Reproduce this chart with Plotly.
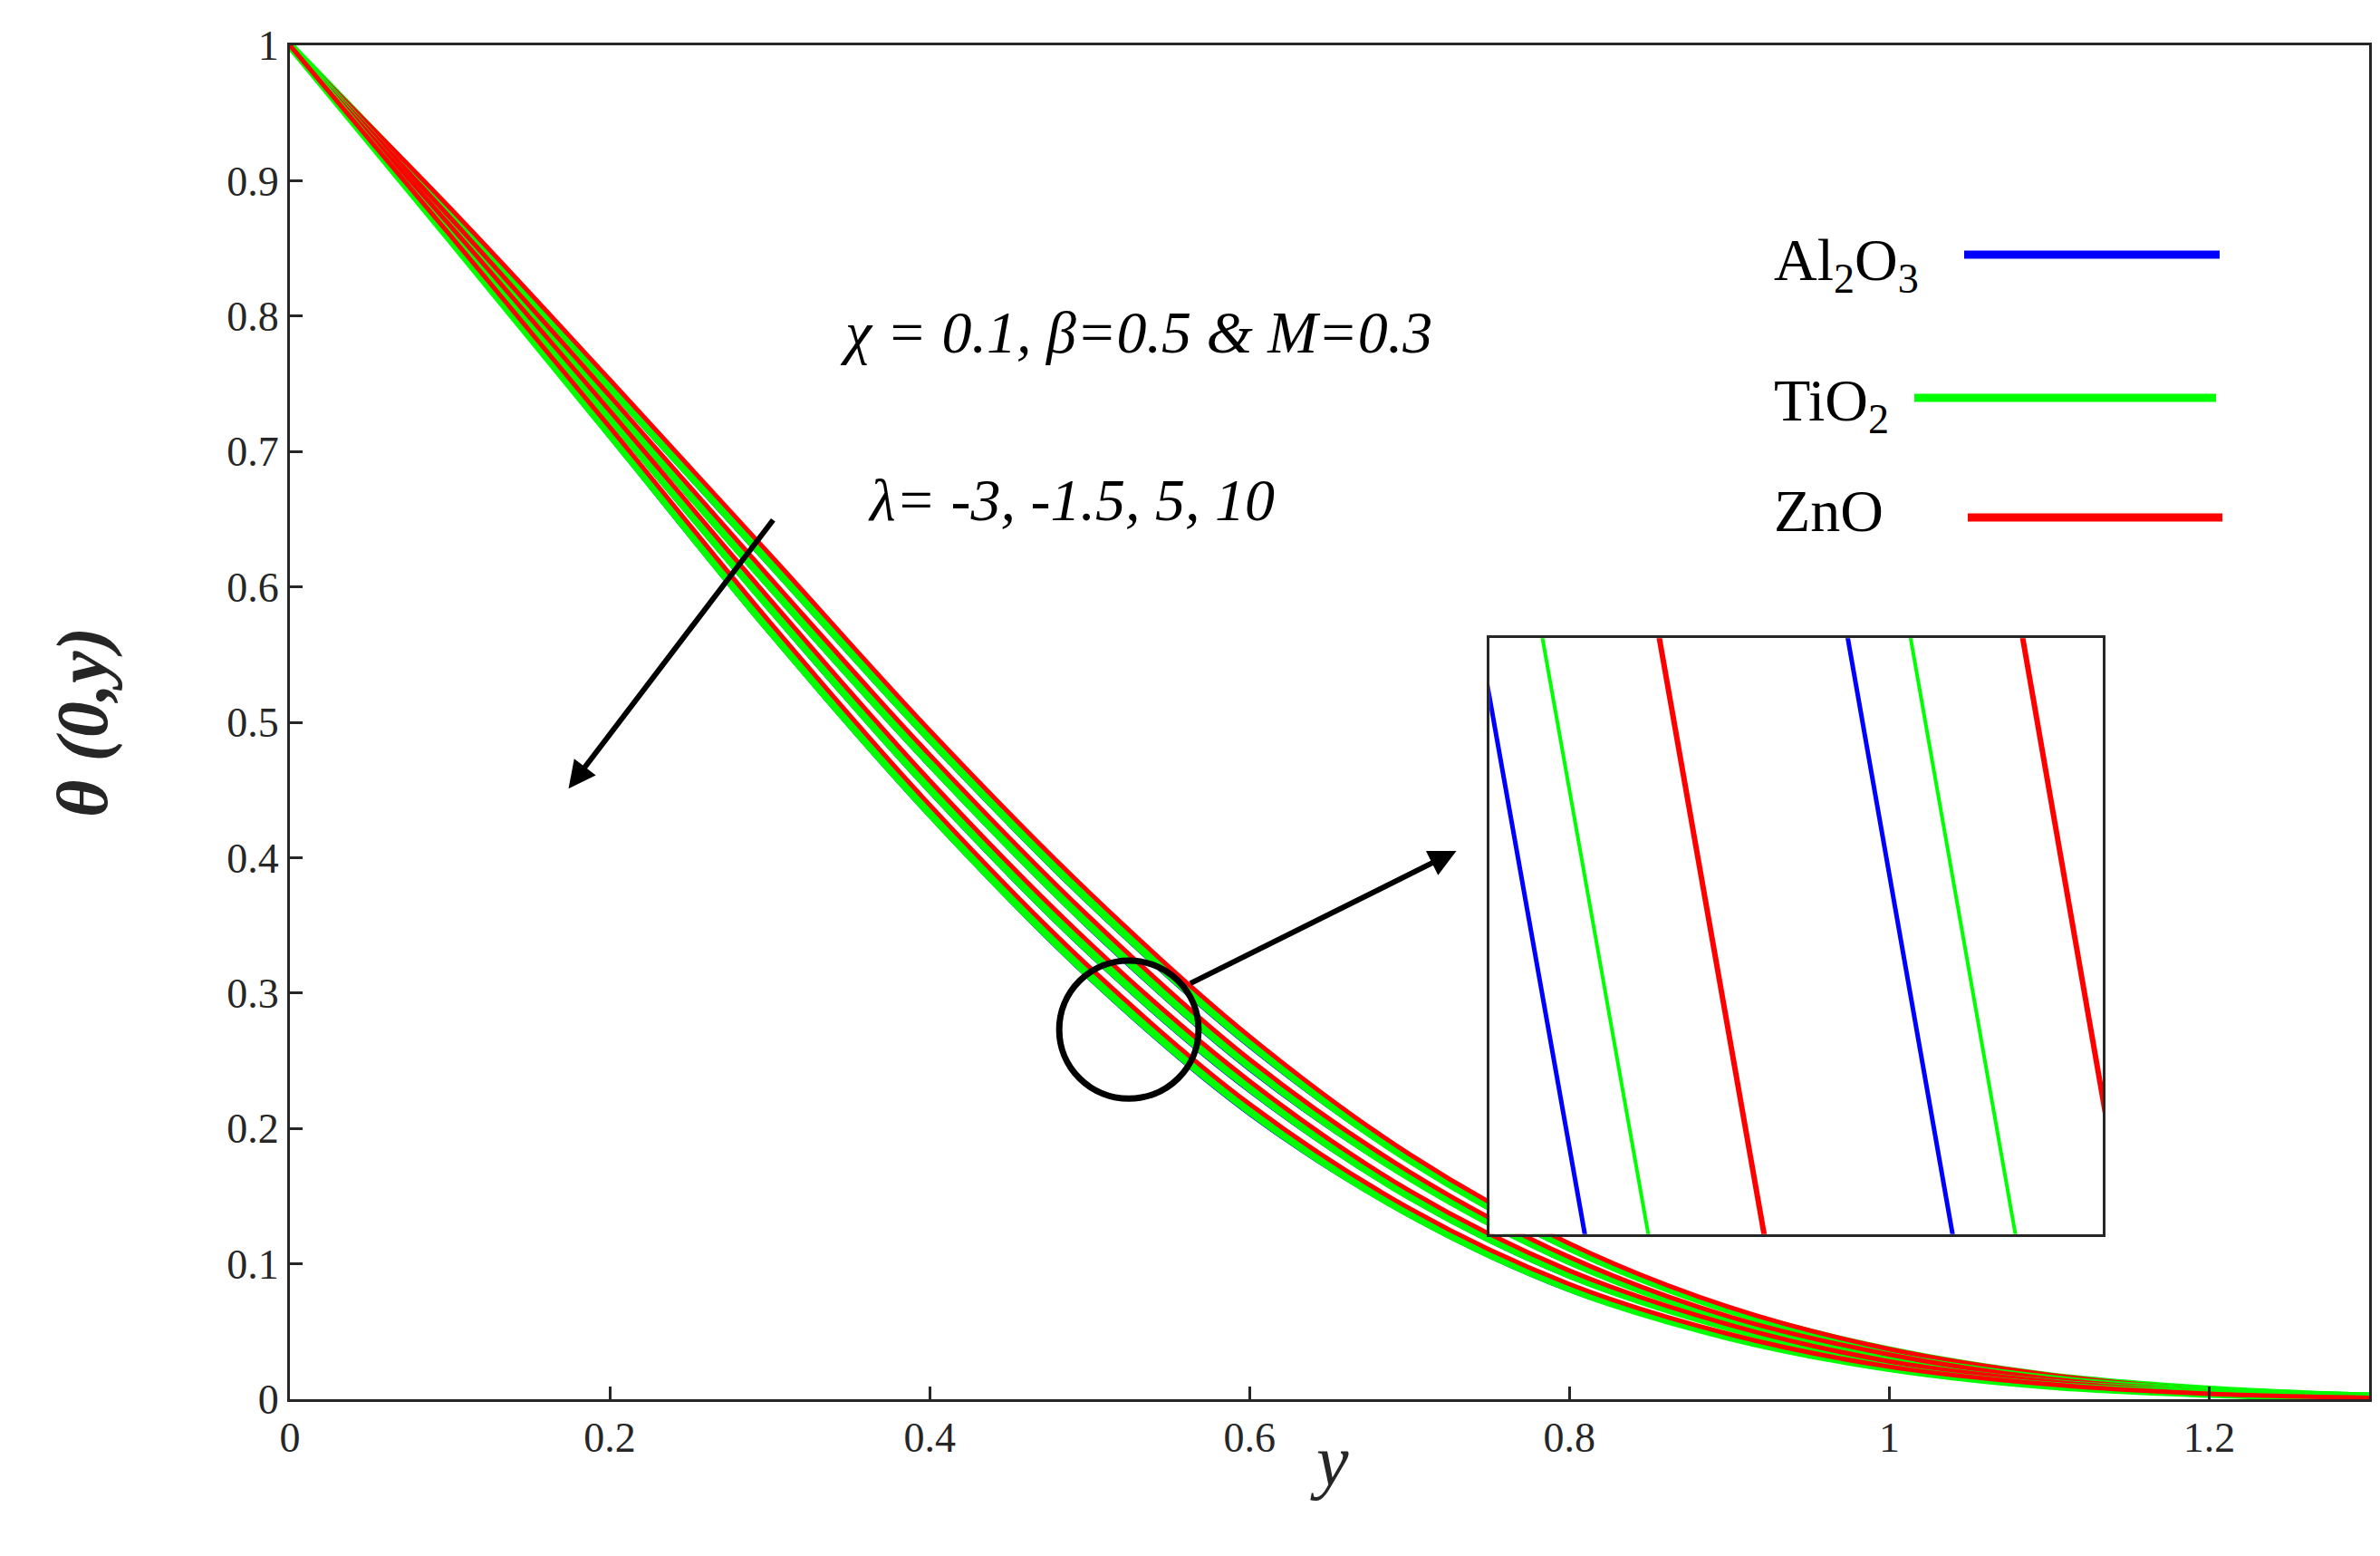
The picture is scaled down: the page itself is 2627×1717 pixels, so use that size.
import plotly.graph_objects as go

y_pts = [0, 0.1, 0.2, 0.3, 0.4, 0.5, 0.6, 0.7, 0.8, 0.9, 1.0, 1.1, 1.2, 1.3]
lambdas = [-3, -1.5, 5, 10]

# theta(0,y) for each lambda (order: -3, -1.5, 5, 10)
al2o3 = [
    [1, .875, .745, .615, .485, .365, .260, .175, .110, .065, .035, .017, .007, .002],
    [1, .868, .733, .598, .467, .347, .243, .162, .100, .058, .031, .015, .006, .002],
    [1, .862, .722, .582, .448, .328, .227, .148, .090, .052, .026, .012, .005, .001],
    [1, .855, .710, .565, .430, .310, .210, .135, .080, .045, .022, .010, .004, .001],
]
tio2 = [
    [1, .877, .748, .618, .488, .368, .263, .177, .112, .066, .036, .017, .007, .002],
    [1, .870, .736, .601, .470, .350, .246, .164, .102, .059, .032, .015, .006, .002],
    [1, .864, .725, .585, .451, .331, .230, .150, .092, .053, .027, .012, .005, .001],
    [1, .857, .713, .568, .433, .313, .213, .137, .082, .046, .023, .010, .004, .001],
]
zno = [
    [1, .880, .753, .624, .494, .374, .268, .181, .115, .068, .037, .018, .007, .002],
    [1, .873, .741, .607, .476, .356, .251, .168, .105, .061, .033, .015, .006, .002],
    [1, .867, .730, .591, .457, .337, .235, .154, .095, .055, .028, .013, .005, .001],
    [1, .860, .718, .574, .439, .319, .218, .141, .085, .048, .024, .011, .004, .001],
]

FONT = "Liberation Serif"
fig = go.Figure()

for i, lam in enumerate(lambdas):
    for vals, col, w, wi in [(al2o3[i], "#0000ff", 3, 5), (tio2[i], "#00ff00", 9, 4), (zno[i], "#ff0000", 5, 6)]:
        fig.add_trace(go.Scatter(x=y_pts, y=vals, mode="lines", line=dict(color=col, width=w, shape="spline"),
                                 showlegend=False, xaxis="x", yaxis="y"))
        # inset copy
        fig.add_trace(go.Scatter(x=y_pts, y=vals, mode="lines", line=dict(color=col, width=wi),
                                 showlegend=False, xaxis="x2", yaxis="y2"))

ax_common = dict(showgrid=False, zeroline=False, linecolor="#262626", linewidth=3, mirror=True,
                 ticks="inside", ticklen=14, tickwidth=3, tickcolor="#262626",
                 tickfont=dict(family=FONT, size=46, color="#262626"))

fig.update_layout(
    width=2627, height=1717,
    margin=dict(l=312, r=20, t=42, b=181),
    paper_bgcolor="white", plot_bgcolor="white",
    xaxis=dict(range=[0, 1.3], tickvals=[0, 0.2, 0.4, 0.6, 0.8, 1, 1.2],
               ticktext=["0", "0.2", "0.4", "0.6", "0.8", "1", "1.2"], **ax_common),
    yaxis=dict(range=[0, 1], tickvals=[i / 10 for i in range(11)],
               ticktext=["0", "0.1", "0.2", "0.3", "0.4", "0.5", "0.6", "0.7", "0.8", "0.9", "1"], **ax_common),
    xaxis2=dict(domain=[0.577, 0.872], anchor="y2", range=[0.5395, 0.5685], showticklabels=False,
                showgrid=False, zeroline=False, linecolor="#262626", linewidth=3, mirror=True, ticks=""),
    yaxis2=dict(domain=[0.122, 0.562], anchor="x2", range=[0.266, 0.271], showticklabels=False,
                showgrid=False, zeroline=False, linecolor="#262626", linewidth=3, mirror=True, ticks=""),
)

# axis titles
fig.add_annotation(text="<i>y</i>", x=0.5, y=-0.076, xref="paper", yref="paper", showarrow=False,
                   font=dict(family=FONT, size=80, color="#262626"))
fig.add_annotation(text="<b><i>θ (0,y)</i></b>", x=-0.12, y=0.5, xref="paper", yref="paper", showarrow=False,
                   textangle=-90, font=dict(family=FONT, size=80, color="#262626"))

# in-plot text
fig.add_annotation(text="<i>χ = 0.1, β=0.5 &amp; M=0.3</i>", x=(1246 - 312) / 2295, y=(1536 - 320) / 1494,
                   xref="paper", yref="paper", showarrow=False, font=dict(family=FONT, size=66, color="black"))
fig.add_annotation(text="<i>λ= -3, -1.5, 5, 10</i>", x=(1174 - 312) / 2295, y=(1536 - 505) / 1494,
                   xref="paper", yref="paper", showarrow=False, font=dict(family=FONT, size=66, color="black"))

# arrows
fig.add_annotation(x=0.561, y=0.405, xref="paper", yref="paper", ax=-295, ay=147, showarrow=True,
                   arrowhead=2, arrowsize=1, arrowwidth=6, arrowcolor="black", text="")
fig.add_annotation(x=0.134, y=0.451, xref="paper", yref="paper", ax=227, ay=-298, showarrow=True,
                   arrowhead=2, arrowsize=1, arrowwidth=6, arrowcolor="black", text="")

# circle marking the zoomed region
fig.add_shape(type="circle", xref="paper", yref="paper", x0=0.370, x1=0.437, y0=0.222, y1=0.324,
              line=dict(color="black", width=7))

# legend
legend = [("Al<sub>2</sub>O<sub>3</sub>", "#0000ff", 240, 2160, 2442, 273),
          ("TiO<sub>2</sub>", "#00ff00", 395, 2105, 2438, 431),
          ("ZnO", "#ff0000", 556, 2164, 2445, 563)]
for label, col, ty, lx0, lx1, ly in legend:
    fig.add_annotation(text=label, x=(1948 - 312) / 2295, y=(1536 - ty) / 1494, xref="paper", yref="paper",
                       xanchor="left", showarrow=False, font=dict(family=FONT, size=66, color="black"))
    fig.add_shape(type="line", xref="paper", yref="paper", x0=(lx0 - 312) / 2295, x1=(lx1 - 312) / 2295,
                  y0=(1536 - ly) / 1494, y1=(1536 - ly) / 1494, line=dict(color=col, width=9))

fig.write_html("out.html")
